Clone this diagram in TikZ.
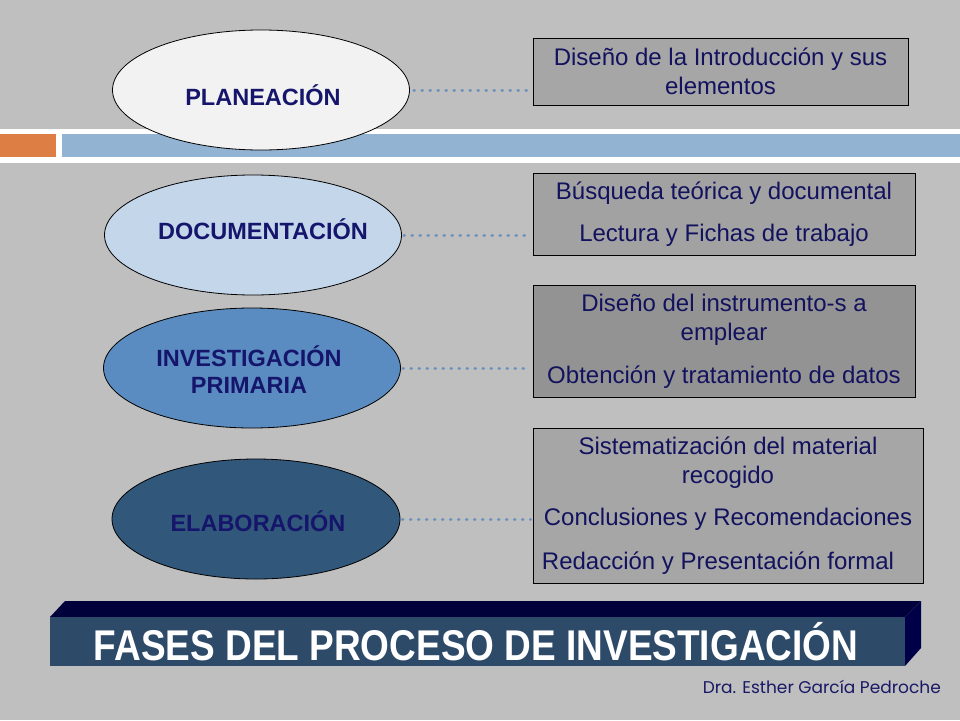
\documentclass[tikz,border=0pt]{standalone}
\usepackage{fontspec}
\setmainfont{Liberation Sans}
\newfontfamily\footfont{Poppins}
\usetikzlibrary{shapes.geometric}
\definecolor{bg}{HTML}{BFBFBF}
\definecolor{orangebar}{HTML}{DD7F45}
\definecolor{bluebar}{HTML}{93B3D3}
\definecolor{navy}{HTML}{12125E}
\definecolor{ellnavy}{HTML}{15156C}
\definecolor{ellA}{HTML}{F2F2F2}
\definecolor{ellB}{HTML}{C3D6EA}
\definecolor{ellC}{HTML}{5A8CC1}
\definecolor{ellD}{HTML}{31587A}
\definecolor{boxA}{HTML}{A6A6A6}
\definecolor{boxB}{HTML}{A2A2A2}
\definecolor{boxC}{HTML}{939393}
\definecolor{boxD}{HTML}{A6A6A6}
\definecolor{banfront}{HTML}{2D4A68}
\definecolor{bantop}{HTML}{00003A}
\definecolor{banside}{HTML}{000048}
\definecolor{dotcol}{HTML}{6F93C0}
\definecolor{footcol}{HTML}{181866}
\tikzset{
  ellnode/.style={ellipse, draw=black, line width=0.8pt, minimum width=297pt,
    minimum height=120pt, inner sep=0pt},
  elltext/.style={font=\bfseries\fontsize{23.5}{27}\selectfont, text=ellnavy,
    align=center, inner sep=0pt},
  boxnode/.style={draw=black, line width=0.8pt, inner sep=0pt, align=center,
    text=navy, font=\fontsize{24}{29}\selectfont},
  dotline/.style={dotcol, line width=3pt, line cap=round,
    dash pattern=on 0.6pt off 7.4pt},
  frontface/.style={fill=banfront, inner sep=0pt, minimum width=855pt,
    minimum height=49pt},
  titletext/.style={text=white, inner sep=0pt, text height=31pt, text depth=0pt,
    font=\bfseries\fontsize{43}{48}\selectfont},
  foottext/.style={text=footcol, inner sep=0pt, anchor=east,
    font=\footfont\fontsize{17}{20}\selectfont}
}
\begin{document}
\begin{tikzpicture}[x=1pt,y=-1pt]
\fill[bg] (0,0) rectangle (960,720);
\useasboundingbox (0,0) rectangle (960,720);
% top strip
\fill[white] (0,129) rectangle (960,163);
\fill[orangebar] (0,134) rectangle (56,157);
\fill[bluebar] (62,134) rectangle (960,157);
% ellipses
\node[ellnode, fill=ellA] (e1) at (261,90) {};
\node[ellnode, fill=ellB] (e2) at (253,235) {};
\node[ellnode, fill=ellC] (e3) at (252,368) {};
\node[ellnode, fill=ellD, minimum width=288pt] (e4) at (256,519) {};
\node[elltext] (t1) at ([xshift=2pt,yshift=-5pt]e1.center) {PLANEACIÓN};
\node[elltext] (t2) at ([xshift=10pt,yshift=6pt]e2.center) {DOCUMENTACIÓN};
\node[elltext] (t3) at ([xshift=-3pt,yshift=-2pt]e3.center) {INVESTIGACIÓN\\PRIMARIA};
\node[elltext] (t4) at ([xshift=2pt,yshift=-2pt]e4.center) {ELABORACIÓN};
% boxes
\node[boxnode, fill=boxA, minimum width=375pt, minimum height=67pt] (b1) at (720.5,71.5)
  {Diseño de la Introducción y sus\\elementos};
\node[boxnode, fill=boxB, minimum width=382pt, minimum height=82pt] (b2) at (724,214)
  {Búsqueda teórica y documental\\[13pt]Lectura y Fichas de trabajo};
\node[boxnode, fill=boxC, minimum width=382pt, minimum height=112pt] (b3) at (724,341)
  {Diseño del instrumento-s a\\emplear\\[14pt]Obtención y tratamiento de datos};
\node[boxnode, fill=boxD, minimum width=390pt, minimum height=155pt] (b4) at (728,505.5)
  {Sistematización del material\\recogido\\[13pt]Conclusiones y Recomendaciones\\[15pt]Redacción y Presentación formal\hspace*{20pt}};
% dotted connectors
\draw[dotline, shorten <=4pt, shorten >=6pt] (e1.east) -- (e1.east -| b1.west);
\draw[dotline, shorten <=2pt, shorten >=2pt] (e2.east) -- (e2.east -| b2.west);
\draw[dotline, shorten <=2pt, shorten >=2pt] (e3.east) -- (e3.east -| b3.west);
\draw[dotline, shorten <=2pt, shorten >=2pt] (e4.east) -- (e4.east -| b4.west);
% banner
\fill[bantop] (50,617) -- (65,601) -- (921,601) -- (905,617) -- cycle;
\fill[banside] (905,617) -- (921,601) -- (921,648) -- (905,666) -- cycle;
\node[frontface] (ban) at (477.5,641.5) {};
\node[titletext] (title) at ([xshift=-1.5pt,yshift=-3.5pt]ban.center)
  {\scalebox{0.86}[1]{FASES DEL PROCESO DE INVESTIGACIÓN}};
% footer
\node[foottext] (foot) at (941,687) {Dra. Esther García Pedroche};
\end{tikzpicture}
\end{document}
